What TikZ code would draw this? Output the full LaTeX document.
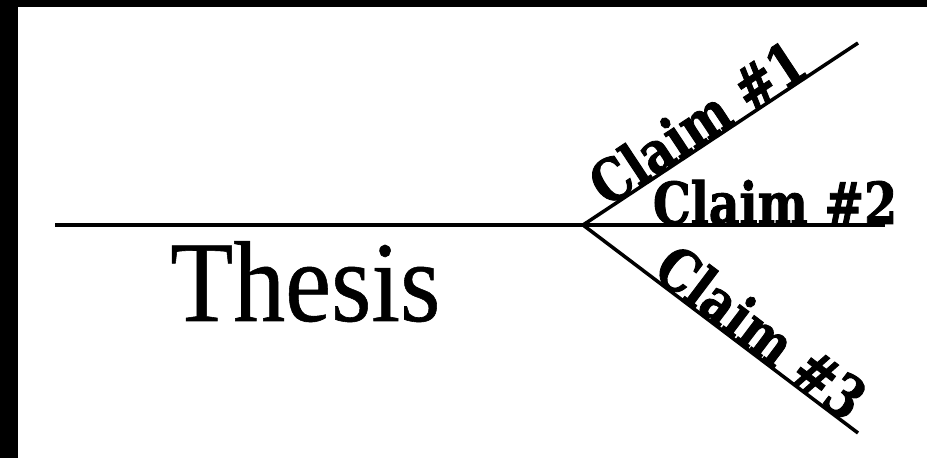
\documentclass[tikz,border=0pt]{standalone}
\usepackage{fontspec}
\usepackage{tikz}
\setmainfont{Liberation Serif}
\newfontfamily\thesisfont{Liberation Serif}[FakeBold=0.5]
\newfontfamily\claimfont{DejaVu Serif Condensed}[UprightFont=* Bold, FakeBold=1.5, FakeStretch=0.91]
\tikzset{
  tak/.style={line width=4.5pt, black},
  claim/.style={font=\claimfont\fontsize{58}{66}\selectfont, inner sep=0pt, anchor=base, sloped}
}

\begin{document}
\begin{tikzpicture}[x=1pt, y=1pt]
  \useasboundingbox (0,0) rectangle (927,458);
  % rand
  \fill[black] (0,0) rectangle (927,458);
  \fill[white] (18,0) rectangle (927,451);
  % punten
  \def\jx{583} \def\jy{233}
  \coordinate (start) at (55,\jy);
  \coordinate (junction) at (\jx,\jy);
  \coordinate (end1) at (858,415);
  \coordinate (end2) at (885,\jy);
  \coordinate (end3) at (858,25);
  % stam
  \draw[tak] (start) -- (junction);
  % takken
  \draw[tak, line width=3.5pt] (junction) -- (end1) node[claim, pos=0.46, yshift=1pt] (claim1) {Claim \#1};
  \draw[tak, line width=3.5pt] (junction) -- (end2) node[claim, pos=0.636, yshift=1pt] (claim2) {Claim \#2};
  \draw[tak, line width=3.5pt] (junction) -- (end3) node[claim, pos=0.6, yshift=1pt] (claim3) {Claim \#3};
  % stelling
  \node[anchor=base west, inner sep=0pt, font=\thesisfont\fontsize{115}{130}\selectfont, xscale=0.9] (thesis) at (170,137) {Thesis};
\end{tikzpicture}
\end{document}
